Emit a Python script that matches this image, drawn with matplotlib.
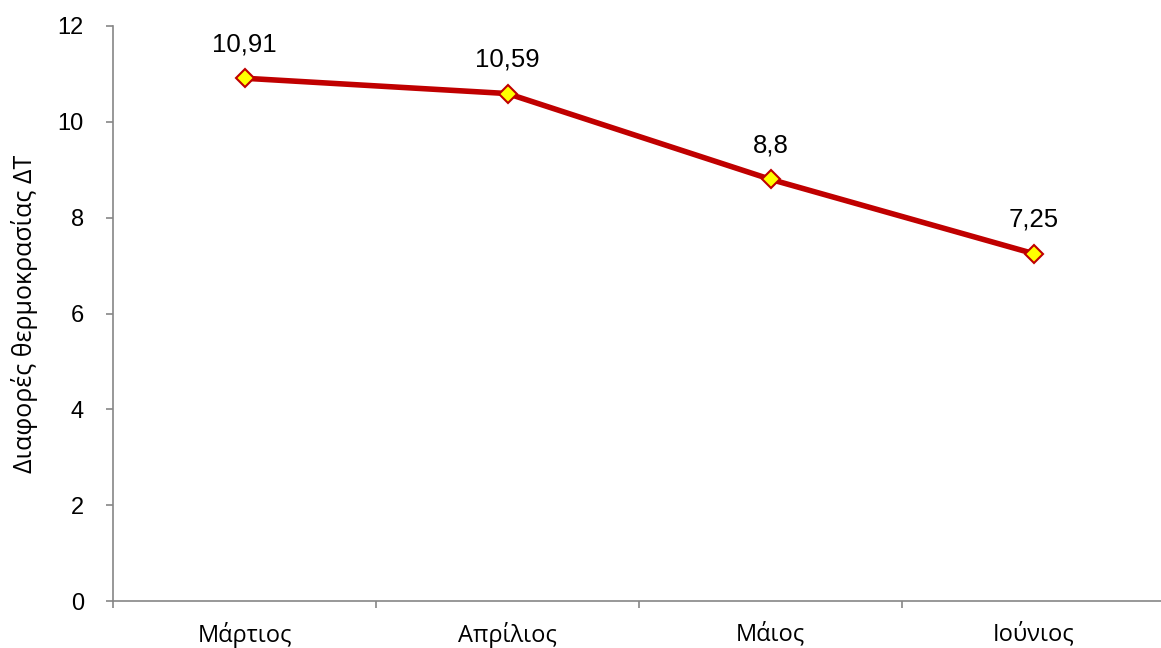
import matplotlib
matplotlib.use("Agg")
from matplotlib import pyplot as plt

months = ["Μάρτιος", "Απρίλιος", "Μάιος", "Ιούνιος"]
delta_t = [10.91, 10.59, 8.8, 7.25]
value_labels = ["10,91", "10,59", "8,8", "7,25"]
y_ticks = [0, 2, 4, 6, 8, 10, 12]

GRAY = "#868686"

fig = plt.figure(figsize=(11.61, 6.48), dpi=100)
ax = fig.add_axes([113 / 1161, 47 / 648, 1052 / 1161, 575 / 648])

x = list(range(len(months)))
ax.plot(x, delta_t, color="#C00000", linewidth=4, marker="D", markersize=9,
        markerfacecolor="#FFFF00", markeredgecolor="#C00000", markeredgewidth=1.5,
        solid_capstyle="round", zorder=3)

for xi, yi, lab in zip(x, delta_t, value_labels):
    ax.annotate(lab, (xi, yi), xytext=(0, 16), textcoords="offset points",
                ha="center", va="bottom", fontsize=18.5, family="Liberation Sans")

ax.set_xlim(-0.5, 3.5)
ax.set_ylim(0, 12)
ax.set_yticks(y_ticks)
ax.set_yticklabels([str(t) for t in y_ticks], family="Liberation Sans", fontsize=17)
ax.set_xticks([i - 0.5 for i in range(len(months) + 1)])
ax.set_xticklabels([])
ax.set_xticks(x, minor=True)
ax.set_xticklabels(months, minor=True, family="Open Sans", fontsize=17)
ax.tick_params(axis="x", which="minor", length=0, pad=15)
ax.tick_params(axis="x", which="major", length=5, color=GRAY, width=1.2)
ax.tick_params(axis="y", length=5, color=GRAY, width=1.2, pad=16)

for side in ["top", "right"]:
    ax.spines[side].set_visible(False)
for side in ["left", "bottom"]:
    ax.spines[side].set_color(GRAY)
    ax.spines[side].set_linewidth(1.2)

ax.set_ylabel("Διαφορές θερμοκρασίας ΔΤ", family="Open Sans", fontsize=18, labelpad=14)

fig.savefig("out.png", dpi=100)
